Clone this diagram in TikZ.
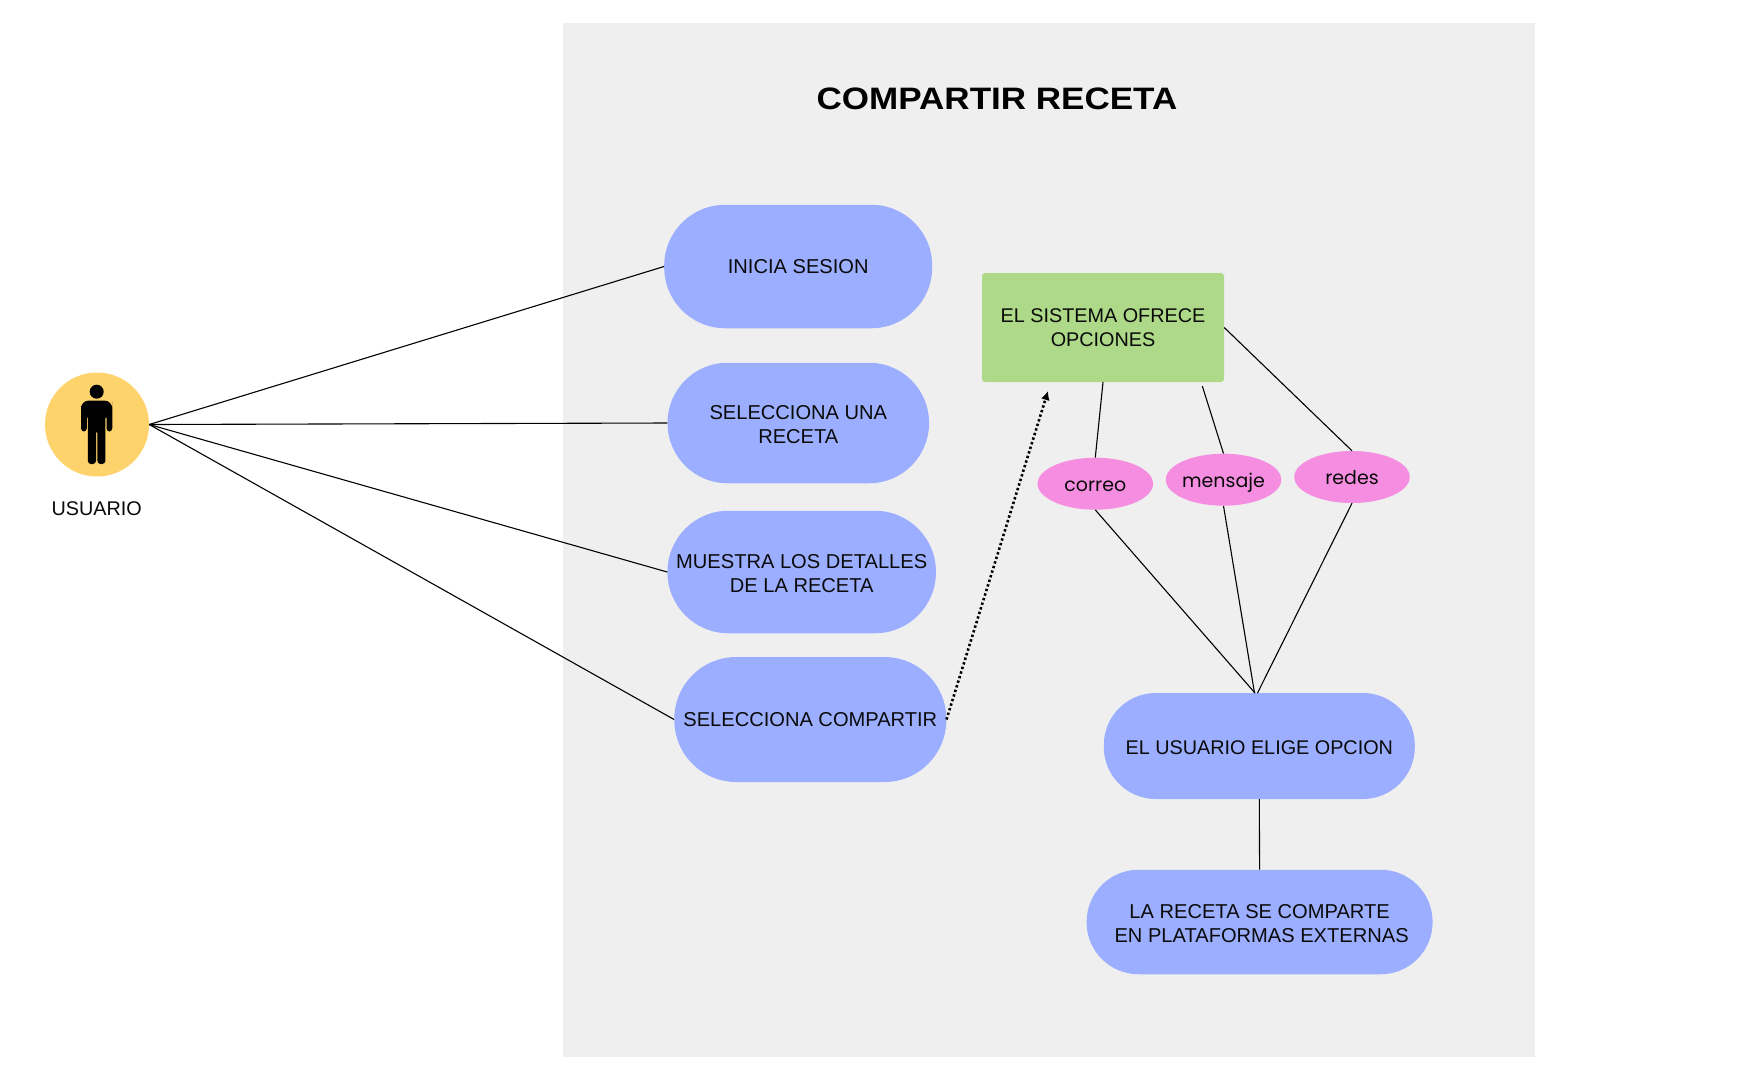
\documentclass[tikz,border=0pt]{standalone}
\usepackage{fontspec}
\setmainfont{Liberation Sans}
\newfontfamily\ovalfont{Poppins}
\newfontfamily\titlefont[FakeStretch=1.13]{Liberation Sans Bold}
\usetikzlibrary{arrows.meta,shapes.geometric}
\definecolor{panelc}{HTML}{EFEFEF}
\definecolor{pillc}{HTML}{9BAEFF}
\definecolor{userc}{HTML}{FFD36B}
\definecolor{greenc}{HTML}{ADD988}
\definecolor{pinkc}{HTML}{F58EE0}
\definecolor{inkc}{HTML}{0A0A0A}
\newcommand\nudgedown{\rule{0pt}{17.5pt}}
\tikzset{
 x=1pt,y=-1pt,
 lbl/.style={font=\fontsize{20.1}{24}\selectfont,text=inkc,align=center,inner sep=0pt},
 pill/.style={lbl,fill=pillc,rounded corners=50pt},
 oval/.style={ellipse,fill=pinkc,inner ysep=-3pt,inner xsep=-6pt,text height=15.5pt,text depth=0pt,minimum width=115.5pt,minimum height=52pt,text=inkc,font=\ovalfont\fontsize{19}{24}\selectfont},
 conn/.style={draw=black,line width=1.1pt},
 dotconn/.style={draw=black,line width=2.6pt,dash pattern=on 2.4pt off 2.4pt,-{Latex[length=9pt,width=9pt]}},
}
\begin{document}
\begin{tikzpicture}
\useasboundingbox (0,0) rectangle (1762,1080);
\fill[white] (0,0) rectangle (1762,1080);
\node[fill=panelc,inner sep=0pt,minimum width=972pt,minimum height=1034pt] (panel) at (1049,539.5) {};
\node[font=\titlefont\fontsize{31}{36}\selectfont,inner sep=0pt,text=black] (title) at (997,99) {COMPARTIR RECETA};
\node[circle,fill=userc,minimum size=104pt,inner sep=0pt] (user) at (97,424.5) {};
% person icon
\fill[black] (96.7,391.7) circle[radius=7pt];
\fill[black,rounded corners=3.2pt] (81,431.5) -- (81,409) [rounded corners=8pt] -- (81,400.5) -- (112.3,400.5) -- (112.3,409) [rounded corners=3.2pt] -- (112.3,431.5) -- (106.5,431.5) -- (106.5,415) -- (105.4,415) -- (105.4,464) -- (97.4,464) -- (97.4,430) -- (96,430) -- (96,464) -- (87.8,464) -- (87.8,415) -- (86.8,415) -- (86.8,431.5) -- cycle;
\node[lbl,font=\fontsize{19.8}{24}\selectfont] (userlabel) at (96.7,508.5) {USUARIO};
\node[pill,minimum width=268pt,minimum height=123.5pt,rounded corners=61pt] (inicia) at (798.2,266.5) {INICIA SESION};
\node[pill,minimum width=261.5pt,minimum height=120.5pt,rounded corners=60pt] (seluna) at (798.3,423) {\nudgedown SELECCIONA UNA\\RECETA};
\node[pill,minimum width=268.5pt,minimum height=122.5pt,rounded corners=61pt] (muestra) at (801.7,572) {\nudgedown MUESTRA LOS DETALLES\\DE LA RECETA};
\node[pill,minimum width=272pt,minimum height=125pt,rounded corners=62pt] (compartir) at (810.3,719.5) {SELECCIONA COMPARTIR};
\node[lbl,font=\fontsize{19.8}{24}\selectfont,fill=greenc,rounded corners=3pt,minimum width=242pt,minimum height=109pt] (sistema) at (1103,327.5) {EL SISTEMA OFRECE\\OPCIONES};
\node[oval] (correo) at (1095.3,483.7) {correo};
\node[oval] (mensaje) at (1223.5,479.7) {mensaje};
\node[oval] (redes) at (1352,477) {redes};
\node[pill,font=\fontsize{19.8}{24}\selectfont,minimum width=311pt,minimum height=106pt,rounded corners=52pt] (elige) at (1259.3,746) {\nudgedown EL USUARIO ELIGE OPCION};
\node[pill,minimum width=346pt,minimum height=104.5pt,rounded corners=52pt] (comparte) at (1259.6,922) {\nudgedown LA RECETA SE COMPARTE\\\hspace*{4pt}EN PLATAFORMAS EXTERNAS};
\coordinate (dotend) at (1048,391);
\coordinate (sisb) at (1202.3,386);
\coordinate (ja) at (1255,693);
\coordinate (jb) at (1254.5,693);
\coordinate (jc) at (1257.5,693);
\draw[conn] (user.east) -- (inicia.west);
\draw[conn] (user.east) -- (seluna.west);
\draw[conn] (user.east) -- (muestra.west);
\draw[conn] (user.east) -- (compartir.west);
\draw[dotconn] (compartir.east) -- (dotend);
\draw[conn] (sistema.south) -- (correo.north);
\draw[conn] (sisb) -- (mensaje.north);
\draw[conn] (sistema.east) -- (redes.north);
\draw[conn] (correo.south) -- (ja);
\draw[conn] (mensaje.south) -- (jb);
\draw[conn] (redes.south) -- (jc);
\draw[conn] (elige.south) -- (comparte.north);
\end{tikzpicture}
\end{document}
